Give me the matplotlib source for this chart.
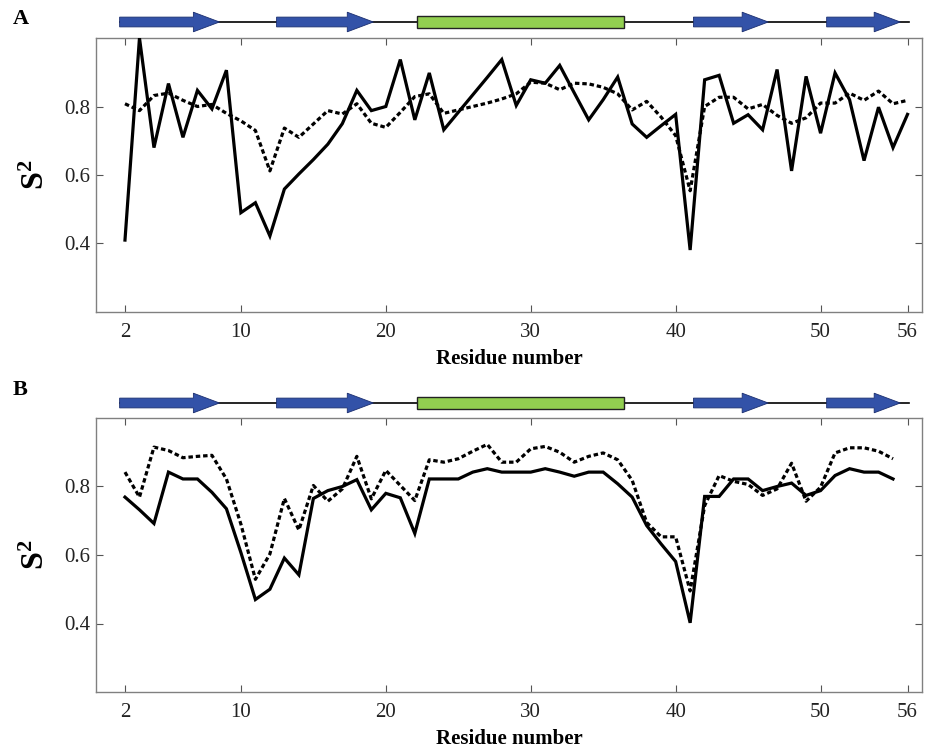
import numpy as np
import matplotlib
matplotlib.use("Agg")
import matplotlib.pyplot as plt
from matplotlib.patches import FancyArrow, Rectangle

plt.rcParams['font.family'] = ['Liberation Serif', 'DejaVu Serif']
plt.rcParams['mathtext.fontset'] = 'custom'
plt.rcParams['mathtext.bf'] = 'Liberation Serif:bold'
plt.rcParams['mathtext.rm'] = 'Liberation Serif'

# residue numbers
res_a = np.arange(2, 57)
res_b = np.arange(2, 56)

# panel A order parameters
s2_a_solid = [0.41, 1.0, 0.68, 0.867, 0.71, 0.847, 0.793, 0.906, 0.49, 0.519,
              0.422, 0.559, 0.603, 0.645, 0.69, 0.75, 0.847, 0.788, 0.80, 0.937,
              0.761, 0.898, 0.732, 0.783, 0.834, 0.885, 0.937, 0.803, 0.878, 0.868,
              0.92, 0.84, 0.761, 0.82, 0.886, 0.749, 0.71, 0.744, 0.777, 0.381,
              0.878, 0.891, 0.751, 0.776, 0.732, 0.908, 0.612, 0.888, 0.722, 0.898,
              0.82, 0.642, 0.798, 0.68, 0.777]
s2_a_dash = [0.808, 0.788, 0.832, 0.839, 0.818, 0.80, 0.806, 0.78, 0.758, 0.73,
             0.612, 0.737, 0.71, 0.749, 0.788, 0.778, 0.808, 0.751, 0.739, 0.783,
             0.829, 0.837, 0.78, 0.79, 0.80, 0.81, 0.822, 0.837, 0.871, 0.868,
             0.849, 0.868, 0.866, 0.856, 0.837, 0.79, 0.815, 0.769, 0.715, 0.554,
             0.80, 0.827, 0.827, 0.793, 0.806, 0.774, 0.751, 0.767, 0.81, 0.81,
             0.839, 0.818, 0.845, 0.808, 0.818]

# panel B order parameters
s2_b_solid = [0.769, 0.732, 0.692, 0.842, 0.822, 0.822, 0.783, 0.735, 0.607, 0.47,
              0.50, 0.591, 0.542, 0.765, 0.788, 0.80, 0.82, 0.732, 0.78, 0.767,
              0.663, 0.822, 0.822, 0.822, 0.842, 0.852, 0.842, 0.842, 0.842, 0.852,
              0.842, 0.83, 0.842, 0.842, 0.808, 0.769, 0.686, 0.632, 0.581, 0.402,
              0.771, 0.771, 0.822, 0.822, 0.788, 0.80, 0.81, 0.774, 0.788, 0.832,
              0.852, 0.842, 0.842, 0.822]
s2_b_dash = [0.842, 0.769, 0.915, 0.905, 0.884, 0.888, 0.891, 0.822, 0.69, 0.529,
             0.603, 0.765, 0.673, 0.803, 0.757, 0.793, 0.888, 0.764, 0.847, 0.803,
             0.759, 0.878, 0.871, 0.881, 0.903, 0.923, 0.871, 0.871, 0.91, 0.917,
             0.90, 0.871, 0.888, 0.898, 0.878, 0.818, 0.695, 0.653, 0.653, 0.495,
             0.744, 0.832, 0.815, 0.806, 0.774, 0.793, 0.868, 0.757, 0.798, 0.898,
             0.913, 0.913, 0.903, 0.881]

# secondary structure (residue ranges)
strands = [(1.63, 8.52), (12.46, 19.14), (41.23, 46.39), (50.42, 55.5)]
helix = (22.15, 36.44)
chain = (1.63, 56.1)

xticks = [2, 10, 20, 30, 40, 50, 56]
yticks = [0.4, 0.6, 0.8]

W, H = 926, 750
fig = plt.figure(figsize=(W / 100, H / 100), dpi=100)


def px_axes(x0, y0, x1, y1):
    return fig.add_axes([x0 / W, 1 - y1 / H, (x1 - x0) / W, (y1 - y0) / H])


def draw_structure(ax):
    ax.set_xlim(0, 57)
    ax.set_ylim(-1, 1)
    ax.axis('off')
    ax.plot(chain, [0, 0], color='black', lw=1.2, zorder=1)
    for s, e in strands:
        ax.add_patch(FancyArrow(s, 0, e - s, 0, width=0.7, head_width=1.4,
                                head_length=1.8, length_includes_head=True,
                                facecolor='#3352a8', edgecolor='#1c2f70',
                                lw=0.6, zorder=2))
    ax.add_patch(Rectangle((helix[0], -0.45), helix[1] - helix[0], 0.9,
                           facecolor='#92cf50', edgecolor='#222222', lw=1.0,
                           zorder=2))


def draw_panel(ax, res, solid, dash):
    ax.plot(res, solid, color='black', lw=2.3, solid_joinstyle='miter', zorder=3)
    ax.plot(res, dash, color='black', lw=2.3, linestyle=(0, (1.4, 0.9)), zorder=3)
    ax.set_xlim(0, 57)
    ax.set_ylim(0.2, 1.0)
    ax.set_xticks(xticks)
    ax.set_yticks(yticks)
    ax.set_yticklabels(['0.4', '0.6', '0.8'])
    ax.tick_params(direction='in', top=True, right=True, length=5, width=0.8,
                   color='#555555', labelsize=15, labelcolor='#222222')
    ax.tick_params(axis='x', pad=8)
    ax.tick_params(axis='y', pad=4)
    for sp in ax.spines.values():
        sp.set_color('#808080')
        sp.set_linewidth(1.0)
    ax.set_xlabel('Residue number', fontsize=15, fontweight='bold')
    ax.xaxis.set_label_coords(0.5, -0.135)
    ax.set_ylabel(r'$\mathbf{S^2}$', fontsize=23)
    ax.yaxis.set_label_coords(-0.054, 0.5)


# panel A
st_a = px_axes(96, 8, 922, 36)
draw_structure(st_a)
ax_a = px_axes(96, 38, 922, 312)
draw_panel(ax_a, res_a, s2_a_solid, s2_a_dash)
fig.text(13 / W, 1 - 29 / H, 'A', fontsize=16, fontweight='bold', va='bottom')

# panel B
st_b = px_axes(96, 389, 922, 417)
draw_structure(st_b)
ax_b = px_axes(96, 418, 922, 692)
draw_panel(ax_b, res_b, s2_b_solid, s2_b_dash)
fig.text(13 / W, 1 - 400 / H, 'B', fontsize=16, fontweight='bold', va='bottom')

fig.savefig('out.png', dpi=100)
